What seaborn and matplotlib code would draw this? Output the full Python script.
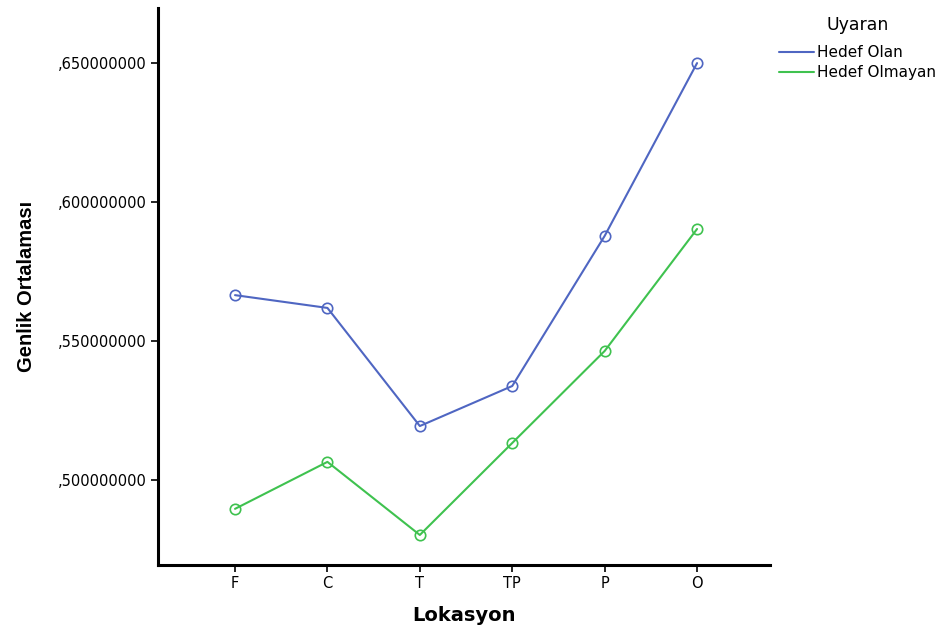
import numpy as np
import pandas as pd
import matplotlib
matplotlib.use("Agg")
import matplotlib.pyplot as plt
import seaborn as sns
from matplotlib.lines import Line2D
from matplotlib.ticker import FuncFormatter

# veriler (grafikten okunan ortalamalar)
lokasyon = ["F", "C", "T", "TP", "P", "O"]
hedef_olan = [0.5665, 0.5619, 0.5194, 0.5338, 0.5878, 0.6500]
hedef_olmayan = [0.4896, 0.5065, 0.4802, 0.5133, 0.5464, 0.5903]
gruplar = ["Hedef Olan", "Hedef Olmayan"]
renkler = ["#4f66c2", "#3fc24f"]

df = pd.DataFrame({
    "Lokasyon": lokasyon * 2,
    "Genlik": hedef_olan + hedef_olmayan,
    "Uyaran": [gruplar[0]] * 6 + [gruplar[1]] * 6,
})
df["x"] = df["Lokasyon"].map({k: i for i, k in enumerate(lokasyon)})

sns.set_style("white")
plt.rcParams["font.family"] = ["DejaVu Sans"]
plt.rcParams["text.color"] = "black"
plt.rcParams["xtick.color"] = "black"
plt.rcParams["ytick.color"] = "black"
plt.rcParams["axes.labelcolor"] = "black"

fig = plt.figure(figsize=(9.43, 6.3), dpi=100)
ax = fig.add_axes([0.1676, 0.1032, 0.649, 0.884])

sns.lineplot(data=df, x="x", y="Genlik", hue="Uyaran", palette=renkler,
             marker="o", markersize=7.5, markerfacecolor="none", linewidth=1.5,
             legend=False, ax=ax)
for ln in ax.lines:
    ln.set_markeredgecolor(ln.get_color())
    ln.set_markeredgewidth(1.2)

ax.set_xlim(-0.833, 5.79)
ax.set_ylim(0.4694, 0.6698)
ax.set_xticks(range(len(lokasyon)))
ax.set_xticklabels(lokasyon)
ax.set_yticks([0.50, 0.55, 0.60, 0.65])
ax.yaxis.set_major_formatter(FuncFormatter(lambda v, p: f"{v:.9f}".lstrip("0").replace(".", ",")))

for s in ["top", "right"]:
    ax.spines[s].set_visible(False)
for s in ["left", "bottom"]:
    ax.spines[s].set_linewidth(2.2)
    ax.spines[s].set_color("black")
ax.tick_params(axis="both", direction="out", length=5, width=1.2, color="black",
               pad=3, left=True, bottom=True)
ax.tick_params(axis="y", labelsize=10.5)
ax.tick_params(axis="x", labelsize=10.5)

ax.set_xlabel("Lokasyon", fontsize=14, fontweight="bold", labelpad=11)
ax.set_ylabel("Genlik Ortalaması", fontsize=14.5, fontweight="bold", labelpad=16,
              family=["Liberation Sans", "DejaVu Sans"])

handles = [Line2D([0], [0], color=c, lw=1.5) for c in renkler]
leg = fig.legend(handles, gruplar, title="Uyaran", loc="upper left",
                 bbox_to_anchor=(0.811, 0.996), frameon=False, fontsize=11,
                 title_fontsize=12.5, handlelength=2.3, handletextpad=0.25,
                 labelspacing=0.3)
leg._legend_box.sep = 8

fig.savefig("out.png", dpi=100)
